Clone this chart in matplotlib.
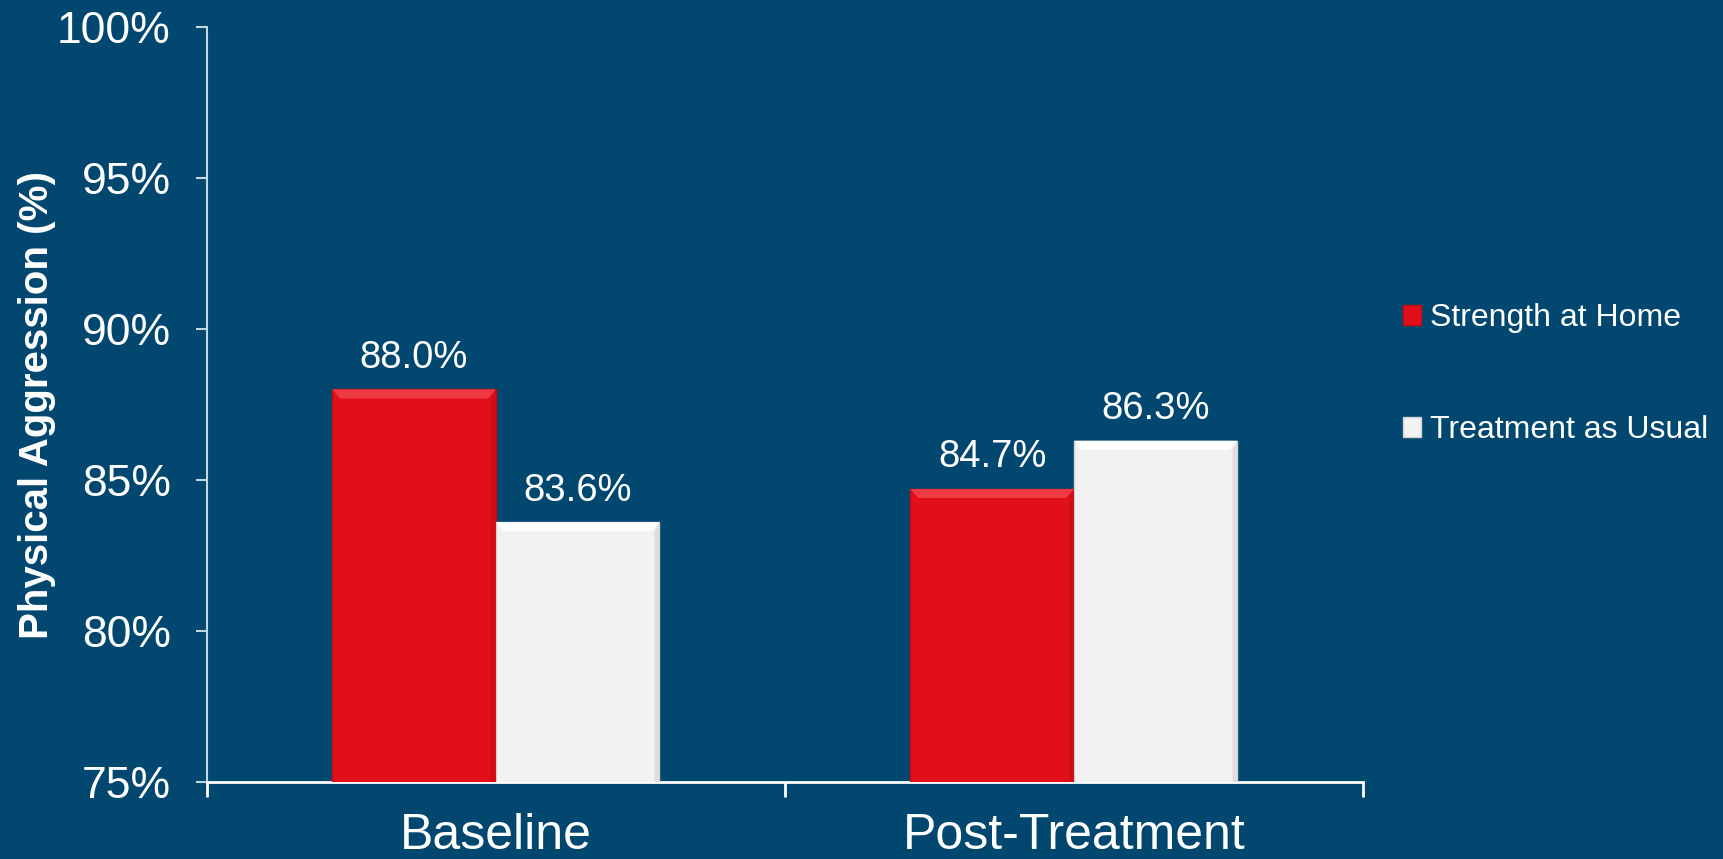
import matplotlib.pyplot as plt
import numpy as np

# chart data
categories = ['Baseline', 'Post-Treatment']
series_names = ['Strength at Home', 'Treatment as Usual']
strength_vals = [88.0, 84.7]
tau_vals = [83.6, 86.3]
y_ticks = [75, 80, 85, 90, 95, 100]

bg = '#01476F'
red = '#E20E19'
white = '#F2F2F2'
axis_col = '#BFD8E2'

plt.rcParams['font.family'] = ['Liberation Sans', 'DejaVu Sans']

fig = plt.figure(figsize=(17.23, 8.59), dpi=100, facecolor=bg)
ax = fig.add_axes([0.120, 0.0896, 0.671, 0.879], facecolor=bg)

x = np.arange(len(categories))
w = 0.283

b1 = ax.bar(x - w / 2, strength_vals, w, bottom=0, color=red,
            edgecolor='#C00A14', linewidth=1.0, label=series_names[0], zorder=3)
b2 = ax.bar(x + w / 2, tau_vals, w, bottom=0, color=white,
            edgecolor='#D0D0D0', linewidth=1.0, label=series_names[1], zorder=3)

# bevel look: lighter top facet, slightly darker right facet
bx, by = 0.014, 0.3
for bars, top_c, side_c in ((b1, '#EE3A42', '#D00C17'), (b2, '#FFFFFF', '#DEDEDE')):
    for r in bars:
        x0, x1 = r.get_x(), r.get_x() + r.get_width()
        y1 = r.get_height()
        ax.fill([x0, x1, x1 - bx, x0 + bx], [y1, y1, y1 - by, y1 - by],
                color=top_c, linewidth=0, zorder=4)
        ax.fill([x1, x1, x1 - bx * 0.6, x1 - bx * 0.6], [75, y1, y1 - by, 75],
                color=side_c, linewidth=0, zorder=4)

for bars, vals in ((b1, strength_vals), (b2, tau_vals)):
    for r, v in zip(bars, vals):
        ax.text(r.get_x() + r.get_width() / 2, v + 0.45, f'{v:.1f}%',
                ha='center', va='bottom', color='white', fontsize=27.5)

ax.set_ylim(75, 100)
ax.set_xlim(-0.5, 1.5)
ax.set_yticks(y_ticks)
ax.set_yticklabels([f'{t}%' for t in y_ticks])
ax.set_xticks(x)
ax.set_xticklabels(categories)
ax.set_xticks([-0.5, 0.5, 1.5], minor=True)

ax.tick_params(axis='y', colors=axis_col, labelcolor='white', labelsize=32,
               length=8, width=1.5, pad=18, direction='out')
ax.tick_params(axis='x', which='major', length=0, labelcolor='white',
               labelsize=36, pad=22)
ax.tick_params(axis='x', which='minor', colors='white', length=11, width=2)

for s in ('top', 'right'):
    ax.spines[s].set_visible(False)
ax.spines['left'].set_color(axis_col)
ax.spines['left'].set_linewidth(1.5)
ax.spines['bottom'].set_color('white')
ax.spines['bottom'].set_linewidth(2)

ax.set_ylabel('Physical Aggression (%)', color='white', fontsize=29,
              fontweight='bold', labelpad=1)

leg = ax.legend(loc='center left', bbox_to_anchor=(1.01, 0.54), frameon=False,
                fontsize=23, labelcolor='white', handlelength=0.55,
                handleheight=0.55, handletextpad=0.3, labelspacing=2.56)

fig.savefig('out.png', dpi=100, facecolor=bg)
